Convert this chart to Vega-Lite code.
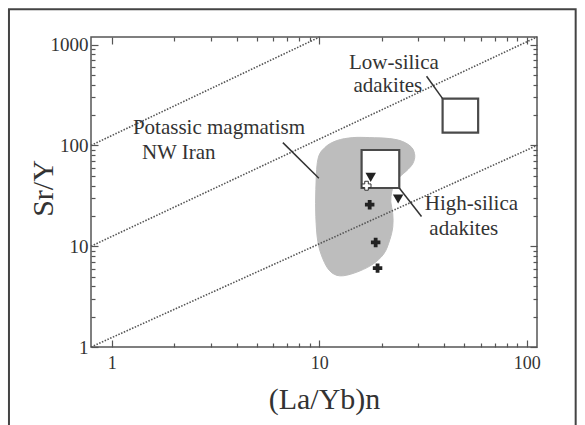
{
  "$schema": "https://vega.github.io/schema/vega-lite/v6.json",
  "width": 446,
  "height": 310,
  "autosize": "none",
  "padding": {"left": 91, "top": 37, "right": 48, "bottom": 78},
  "background": "white",
  "config": {
    "view": {"stroke": "#555", "strokeWidth": 1.5},
    "font": "Liberation Serif, Times New Roman, serif",
    "text": {"font": "Liberation Serif, Times New Roman, serif"},
    "axis": {"labelFont": "Liberation Serif, Times New Roman, serif", "titleFont": "Liberation Serif, Times New Roman, serif", "titleFontWeight": "normal", "labelColor": "#333", "titleColor": "#333", "tickColor": "#555", "tickWidth": 1.2, "domain": false, "grid": false, "labelOverlap": false, "labelFlush": false}
  },
  "resolve": {"axis": {"x": "independent", "y": "independent"}},
  "datasets": {
    "field": [
      {"i": 1, "x": 9.85, "y": 72.3},
      {"i": 2, "x": 10.64, "y": 95.1},
      {"i": 3, "x": 12.15, "y": 111.6},
      {"i": 4, "x": 14.51, "y": 119.5},
      {"i": 5, "x": 17.52, "y": 119.5},
      {"i": 6, "x": 21.88, "y": 116.8},
      {"i": 7, "x": 25.26, "y": 109.1},
      {"i": 8, "x": 27.92, "y": 95.1},
      {"i": 9, "x": 28.86, "y": 79.2},
      {"i": 10, "x": 28.22, "y": 65.9},
      {"i": 11, "x": 26.41, "y": 56.2},
      {"i": 12, "x": 24.44, "y": 49.0},
      {"i": 13, "x": 23.12, "y": 42.7},
      {"i": 14, "x": 22.36, "y": 34.7},
      {"i": 15, "x": 22.12, "y": 27.6},
      {"i": 16, "x": 22.61, "y": 21.0},
      {"i": 17, "x": 22.61, "y": 15.6},
      {"i": 18, "x": 21.88, "y": 11.6},
      {"i": 19, "x": 20.47, "y": 8.4},
      {"i": 20, "x": 17.92, "y": 6.53},
      {"i": 21, "x": 14.84, "y": 5.44},
      {"i": 22, "x": 12.57, "y": 5.08},
      {"i": 23, "x": 11.25, "y": 5.69},
      {"i": 24, "x": 10.41, "y": 7.49},
      {"i": 25, "x": 9.85, "y": 11.06},
      {"i": 26, "x": 9.63, "y": 19.6},
      {"i": 27, "x": 9.63, "y": 36.4}
    ],
    "refLines": [
      {"line": "a", "x": 0.795, "y": 1},
      {"line": "a", "x": 112, "y": 100},
      {"line": "b", "x": 0.795, "y": 10},
      {"line": "b", "x": 112, "y": 1190},
      {"line": "c", "x": 0.795, "y": 100},
      {"line": "c", "x": 10.05, "y": 1190}
    ],
    "boxes": [
      {"name": "Low-silica adakites", "x": 39.3, "x2": 58.3, "y": 134, "y2": 291},
      {"name": "High-silica adakites", "x": 16.0, "x2": 24.3, "y": 37.8, "y2": 90}
    ],
    "leaders": [
      {"x": 6.68, "y": 106.6, "x2": 9.96, "y2": 47.3},
      {"x": 32.9, "y": 486, "x2": 39.3, "y2": 291},
      {"x": 24.3, "y": 37.8, "x2": 31.1, "y2": 19.7}
    ],
    "crosses": [
      {"x": 17.5, "y": 25.8},
      {"x": 18.7, "y": 10.9},
      {"x": 19.1, "y": 6.06}
    ],
    "openCross": [{"x": 16.9, "y": 39.8}],
    "triangles": [
      {"x": 17.7, "y": 48.2},
      {"x": 24.0, "y": 29.4}
    ],
    "leftLabels": [
      {"text": "Potassic magmatism", "x": 1.266, "y": 149.3},
      {"text": "NW Iran", "x": 1.399, "y": 84.2}
    ],
    "centerLabels": [
      {"text": "Low-silica", "x": 22.9, "y": 660},
      {"text": "adakites", "x": 21.4, "y": 387},
      {"text": "High-silica", "x": 54.1, "y": 26.4},
      {"text": "adakites", "x": 49.7, "y": 14.9}
    ],
    "border": [{"x": 0.32, "x2": 172, "y": 0.1, "y2": 2239}]
  },
  "layer": [
    {
      "data": {"name": "border"},
      "mark": {"type": "rect", "fill": null, "stroke": "#444", "strokeWidth": 2, "clip": false},
      "encoding": {
        "x": {"field": "x", "type": "quantitative", "scale": {"type": "log", "domain": [0.795, 112], "nice": false},
          "axis": {"orient": "top", "values": [1,2,3,4,5,6,7,8,9,10,20,30,40,50,60,70,80,90,100], "labels": false, "title": null,
            "tickSize": {"condition": {"test": "datum.value == 1 || datum.value == 10 || datum.value == 100", "value": -7}, "value": -4}}},
        "x2": {"field": "x2"},
        "y": {"field": "y", "type": "quantitative", "scale": {"type": "log", "domain": [1, 1190], "nice": false},
          "axis": {"orient": "right", "values": [1,2,3,4,5,6,7,8,9,10,20,30,40,50,60,70,80,90,100,200,300,400,500,600,700,800,900,1000], "labels": false, "title": null,
            "tickSize": {"condition": {"test": "datum.value == 1 || datum.value == 10 || datum.value == 100 || datum.value == 1000", "value": -7}, "value": -4}}},
        "y2": {"field": "y2"}
      }
    },
    {
      "data": {"name": "field"},
      "mark": {"type": "line", "interpolate": "cardinal-closed", "fill": "#bdbdbd", "stroke": "#bdbdbd", "strokeWidth": 1},
      "encoding": {
        "x": {"field": "x", "type": "quantitative", "axis": null},
        "y": {"field": "y", "type": "quantitative", "axis": null},
        "order": {"field": "i", "type": "quantitative"}
      }
    },
    {
      "data": {"name": "refLines"},
      "mark": {"type": "line", "stroke": "#555", "strokeWidth": 1.6, "strokeDash": [1.5, 1.5]},
      "encoding": {
        "x": {"field": "x", "type": "quantitative",
          "axis": {"orient": "bottom", "values": [1,2,3,4,5,6,7,8,9,10,20,30,40,50,60,70,80,90,100],
            "labelExpr": "datum.value == 1 || datum.value == 10 || datum.value == 100 ? format(datum.value, 'd') : ''",
            "labelFontSize": 18, "labelPadding": 14,
            "tickSize": {"condition": {"test": "datum.value == 1 || datum.value == 10 || datum.value == 100", "value": -7}, "value": -4},
            "title": "(La/Yb)n", "titleFontSize": 30, "titleX": 233, "titleY": 61, "titleBaseline": "alphabetic"}},
        "y": {"field": "y", "type": "quantitative",
          "axis": {"orient": "left", "values": [1,2,3,4,5,6,7,8,9,10,20,30,40,50,60,70,80,90,100,200,300,400,500,600,700,800,900,1000],
            "labelExpr": "datum.value == 1 || datum.value == 10 || datum.value == 100 || datum.value == 1000 ? format(datum.value, 'd') : ''",
            "labelFontSize": 19, "labelPadding": 10,
            "tickSize": {"condition": {"test": "datum.value == 1 || datum.value == 10 || datum.value == 100 || datum.value == 1000", "value": -7}, "value": -4},
            "title": "Sr/Y", "titleFontSize": 30, "titleAngle": -90, "titleX": -39, "titleY": 151, "titleBaseline": "alphabetic", "titleAlign": "center"}},
        "detail": {"field": "line"}
      }
    },
    {
      "data": {"name": "boxes"},
      "mark": {"type": "rect", "fill": "white", "stroke": "#4a4a4a", "strokeWidth": 2.2},
      "encoding": {
        "x": {"field": "x", "type": "quantitative", "axis": null},
        "x2": {"field": "x2"},
        "y": {"field": "y", "type": "quantitative", "axis": null},
        "y2": {"field": "y2"}
      }
    },
    {
      "data": {"name": "leaders"},
      "mark": {"type": "rule", "stroke": "#333", "strokeWidth": 1.5},
      "encoding": {
        "x": {"field": "x", "type": "quantitative", "axis": null},
        "x2": {"field": "x2"},
        "y": {"field": "y", "type": "quantitative", "axis": null},
        "y2": {"field": "y2"}
      }
    },
    {
      "data": {"name": "triangles"},
      "mark": {"type": "point", "shape": "triangle-down", "filled": true, "color": "#222", "size": 110, "opacity": 1},
      "encoding": {
        "x": {"field": "x", "type": "quantitative", "axis": null},
        "y": {"field": "y", "type": "quantitative", "axis": null}
      }
    },
    {
      "data": {"name": "crosses"},
      "mark": {"type": "point", "shape": "cross", "filled": true, "color": "#222", "size": 90, "opacity": 1},
      "encoding": {
        "x": {"field": "x", "type": "quantitative", "axis": null},
        "y": {"field": "y", "type": "quantitative", "axis": null}
      }
    },
    {
      "data": {"name": "openCross"},
      "mark": {"type": "point", "shape": "cross", "filled": true, "fill": "white", "stroke": "#333", "strokeWidth": 1, "size": 80, "opacity": 1},
      "encoding": {
        "x": {"field": "x", "type": "quantitative", "axis": null},
        "y": {"field": "y", "type": "quantitative", "axis": null}
      }
    },
    {
      "data": {"name": "leftLabels"},
      "mark": {"type": "text", "align": "left", "baseline": "middle", "font": "Liberation Serif, Times New Roman, serif", "fontSize": 21, "color": "#333"},
      "encoding": {
        "x": {"field": "x", "type": "quantitative", "axis": null},
        "y": {"field": "y", "type": "quantitative", "axis": null},
        "text": {"field": "text"}
      }
    },
    {
      "data": {"name": "centerLabels"},
      "mark": {"type": "text", "align": "center", "baseline": "middle", "font": "Liberation Serif, Times New Roman, serif", "fontSize": 21, "color": "#333"},
      "encoding": {
        "x": {"field": "x", "type": "quantitative", "axis": null},
        "y": {"field": "y", "type": "quantitative", "axis": null},
        "text": {"field": "text"}
      }
    }
  ]
}
